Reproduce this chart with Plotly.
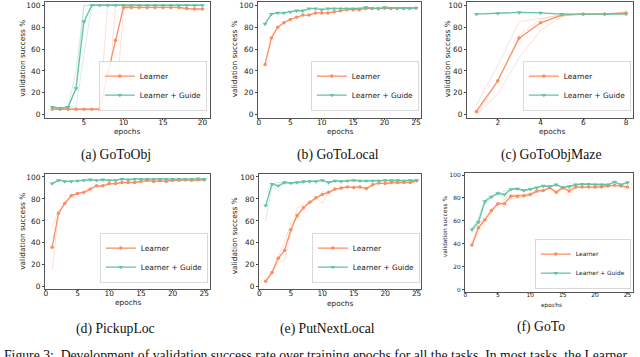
import plotly.graph_objects as go

W, H = 640, 357

LEARNER = "#fc8d62"
GUIDE = "#66c2a5"
LEARNER_FAINT = "rgba(252,141,98,0.28)"
GUIDE_FAINT = "rgba(102,194,165,0.28)"

# ---------------- data ----------------
# (a) GoToObj
epochs_a = list(range(1, 21))
a_learner = [5, 5, 5, 5, 5, 5, 5, 37, 68, 98, 98, 98, 98, 98, 98, 98, 98, 97, 96.5, 96.5]
a_guide = [7, 6, 7, 24, 85, 100, 100, 100, 100, 100, 100, 100, 100, 100, 100, 100, 100, 100, 100, 100]
a_learner_s1 = [5, 5, 5, 5, 5, 5, 5, 100, 100, 100, 98, 98, 98, 98, 98, 98, 98, 97, 96, 96]
a_learner_s2 = [6, 5, 5, 5, 5, 5, 5, 6, 100, 100, 98, 98, 98, 98, 98, 98, 98, 97, 97, 97]
a_learner_s3 = [5, 5, 5, 5, 5, 5, 5, 5, 5, 96, 98, 98, 98, 98, 98, 98, 98, 97, 97, 97]
a_guide_s1 = [7, 6, 7, 40, 100, 100, 100, 100, 100, 100, 100, 100, 100, 100, 100, 100, 100, 100, 100, 100]
a_guide_s2 = [8, 6, 8, 25, 100, 100, 100, 100, 100, 100, 100, 100, 100, 100, 100, 100, 100, 100, 100, 100]
a_guide_s3 = [7, 6, 7, 7, 55, 100, 100, 100, 100, 100, 100, 100, 100, 100, 100, 100, 100, 100, 100, 100]

# (b) GoToLocal
epochs_b = list(range(1, 26))
b_learner = [46, 70, 80, 84, 87, 89, 91, 91, 93, 93, 93, 94, 95, 96, 96, 96, 97, 97, 97, 97.5, 97, 97, 97, 97, 97.5]
b_guide = [83, 92, 93, 93, 94, 95, 95, 97, 97, 96, 97, 97, 97, 97, 97, 97, 98, 97.5, 97, 98, 97.5, 97.5, 97.5, 97.5, 97.5]

# (c) GoToObjMaze
epochs_c = list(range(1, 9))
c_learner = [3, 31, 70, 84, 91, 92, 92, 93]
c_guide = [92, 92.5, 93.5, 93, 92, 92, 92, 92]
c_learner_s1 = [9, 45, 85, 88, 91, 92, 92, 93]
c_learner_s2 = [0, 19, 52, 77, 90, 92, 92, 93]
c_learner_s3 = [0, 30, 73, 87, 92, 92, 92, 94]

# (d) PickupLoc
epochs_d = list(range(1, 26))
d_learner = [36, 67, 76, 83, 85, 86, 89, 92, 92, 94, 94, 95, 95, 95, 96, 97, 96, 96.5, 96, 97, 97, 97.5, 97, 97.5, 97.5]
d_guide = [94, 97, 96, 96, 96.5, 97, 97.5, 97, 97.5, 97, 97, 98, 97.5, 98, 98, 98, 98, 98, 98, 98, 98, 98, 98, 98.5, 98]
d_learner_s1 = [15, 66, 75, 83, 85, 86, 88, 92, 91, 94, 94, 95, 95, 95, 96, 97, 96, 96, 96, 97, 97, 97, 97, 97, 97]
d_learner_s2 = [55, 69, 77, 82, 85, 86, 89, 91, 92, 93, 94, 95, 95, 95, 96, 96, 96, 97, 96, 97, 97, 98, 97, 98, 98]

# (e) PutNextLocal
epochs_e = list(range(1, 26))
e_learner = [5, 13, 26, 33, 52, 65, 72, 77, 81, 84, 86, 89, 90, 91, 90.5, 91, 89.5, 93, 94.5, 94, 95, 95, 95, 95, 96.5]
e_guide = [74, 93.5, 92, 95, 94.5, 95, 96, 96, 96, 97, 95, 96.5, 96, 96.5, 97, 96.5, 96.5, 96.5, 96.5, 97, 97, 97, 96.5, 97, 97]
e_learner_s1 = [5, 12, 22, 24, 48, 72, 75, 77, 82, 76, 86, 88, 89, 91, 90, 92, 88, 93, 94, 94, 95, 95, 95, 95, 96]
e_learner_s2 = [6, 14, 28, 40, 58, 62, 72, 78, 80, 87, 85, 89, 90, 91, 91, 90, 90, 92, 95, 94, 95, 94, 95, 95, 96]
e_guide_s1 = [60, 92, 87, 95, 94, 95, 96, 96, 96, 97, 95, 96, 96, 96, 97, 96, 96, 96, 96, 97, 97, 97, 96, 97, 97]
e_guide_s2 = [85, 94, 95, 95, 95, 95, 96, 96, 96, 97, 95, 97, 96, 97, 97, 97, 96, 97, 97, 97, 97, 97, 96, 97, 97]

# (f) GoTo
epochs_f = list(range(1, 26))
f_learner = [39, 54, 61, 69, 75, 75, 81.5, 81.5, 82, 83, 86, 86.5, 89, 85, 89, 86, 89.5, 89.5, 89.5, 89.5, 89.5, 90.5, 91, 90.5, 89.5]
f_guide = [52.5, 59, 77, 81, 84, 83, 87.5, 88, 86.5, 87.5, 89, 90.5, 90, 91.5, 89, 90, 91.5, 92, 92, 91.5, 91.5, 91.5, 94, 91.5, 93.5]
f_learner_s1 = [39, 50, 58, 66, 76, 72, 79, 80, 81, 82, 85, 86, 88, 84, 88, 82, 89, 89, 90, 88, 90, 90, 91, 90, 89]
f_learner_s2 = [40, 57, 63, 70, 74, 78, 83, 83, 83, 84, 87, 87, 89, 86, 90, 88, 90, 90, 89, 90, 90, 91, 91, 91, 90]
f_guide_s1 = [52, 57, 75, 79, 86, 78, 88, 89, 86, 88, 89, 91, 90, 91, 89, 90, 92, 92, 92, 91, 91, 91, 94, 91, 93]
f_guide_s2 = [54, 62, 79, 82, 83, 86, 87, 88, 87, 87, 89, 90, 90, 92, 89, 90, 91, 92, 92, 92, 92, 92, 94, 92, 94]

captions = ["(a) GoToObj", "(b) GoToLocal", "(c) GoToObjMaze",
            "(d) PickupLoc", "(e) PutNextLocal", "(f) GoTo"]
series_names = ["Learner", "Learner + Guide"]
y_title = "validation success %"
x_title = "epochs"
bottom_caption = ("Figure 3:  Development of validation success rate over training epochs for all "
                  "the tasks. In most tasks, the Learner")

# ---------------- layout helpers ----------------
def fx(px):
    return px / W

def fy(py):
    return 1 - py / H

panels = [
    dict(x=epochs_a, L=a_learner, G=a_guide,
         Ls=[a_learner_s1, a_learner_s2, a_learner_s3], Gs=[a_guide_s1, a_guide_s2, a_guide_s3],
         box=(43, 209, 1, 118), xr=[0.05, 20.95], yr=[-2.7, 103], xt=[5, 10, 15, 20],
         fs=7.4, ytx=(20.5, 58), xtx=(126, 131.5), cap=(115, 156), leg=(206, 111)),
    dict(x=epochs_b, L=b_learner, G=b_guide, Ls=[], Gs=[],
         box=(257, 421, 1, 118), xr=[-0.16, 25.8], yr=[-2.7, 103], xt=[0, 5, 10, 15, 20, 25],
         fs=7.4, ytx=(233, 58), xtx=(340, 131.5), cap=(338, 156), leg=(419, 111)),
    dict(x=epochs_c, L=c_learner, G=c_guide,
         Ls=[c_learner_s1, c_learner_s2, c_learner_s3], Gs=[],
         box=(467, 634, 1, 118), xr=[0.55, 8.33], yr=[-2.7, 103], xt=[2, 4, 6, 8],
         fs=7.4, ytx=(447, 58), xtx=(553, 131.5), cap=(552, 156), leg=(632, 111)),
    dict(x=epochs_d, L=d_learner, G=d_guide,
         Ls=[d_learner_s1, d_learner_s2], Gs=[],
         box=(43, 209, 175, 291), xr=[-0.16, 25.9], yr=[-1.8, 102.7], xt=[0, 5, 10, 15, 20, 25],
         fs=7.4, ytx=(20.5, 233), xtx=(127, 305), cap=(114, 332), leg=(207, 285)),
    dict(x=epochs_e, L=e_learner, G=e_guide,
         Ls=[e_learner_s1, e_learner_s2], Gs=[e_guide_s1, e_guide_s2],
         box=(258, 421, 175, 291), xr=[-0.1, 25.7], yr=[-1.8, 102.7], xt=[0, 5, 10, 15, 20, 25],
         fs=7.4, ytx=(233, 237), xtx=(340, 305.5), cap=(327, 332), leg=(420, 285)),
    dict(x=epochs_f, L=f_learner, G=f_guide,
         Ls=[f_learner_s1, f_learner_s2], Gs=[f_guide_s1, f_guide_s2],
         box=(465, 634, 174, 294), xr=[-0.1, 25.85], yr=[-1.7, 101.7], xt=[0, 5, 10, 15, 20, 25],
         fs=5.9, ytx=(446, 228), xtx=(552, 308), cap=(542, 330), leg=(632, 291)),
]

fig = go.Figure()
layout = dict(width=W, height=H, margin=dict(l=0, r=0, t=0, b=0),
              paper_bgcolor="white", plot_bgcolor="white",
              font=dict(family="DejaVu Sans", color="#222"))
annotations = []

for i, p in enumerate(panels, start=1):
    xa = "x" if i == 1 else f"x{i}"
    ya = "y" if i == 1 else f"y{i}"
    leg = "legend" if i == 1 else f"legend{i}"
    fs = p["fs"]
    # faint seed curves
    for s in p["Ls"]:
        fig.add_trace(go.Scatter(x=p["x"], y=s, mode="lines", xaxis=xa, yaxis=ya,
                                 line=dict(color=LEARNER_FAINT, width=1), showlegend=False,
                                 hoverinfo="skip"))
    for s in p["Gs"]:
        fig.add_trace(go.Scatter(x=p["x"], y=s, mode="lines", xaxis=xa, yaxis=ya,
                                 line=dict(color=GUIDE_FAINT, width=1), showlegend=False,
                                 hoverinfo="skip"))
    # mean curves
    fig.add_trace(go.Scatter(x=p["x"], y=p["L"], mode="lines+markers", name=series_names[0],
                             xaxis=xa, yaxis=ya, legend=leg,
                             line=dict(color=LEARNER, width=1.3),
                             marker=dict(symbol="circle", size=3.5, color=LEARNER)))
    fig.add_trace(go.Scatter(x=p["x"], y=p["G"], mode="lines+markers", name=series_names[1],
                             xaxis=xa, yaxis=ya, legend=leg,
                             line=dict(color=GUIDE, width=1.3),
                             marker=dict(symbol="triangle-down", size=4.5, color=GUIDE)))

    x0, x1, y0, y1 = p["box"]
    axcommon = dict(showline=True, linecolor="#555", linewidth=0.9, mirror=True,
                    showgrid=False, zeroline=False, ticks="outside",
                    tickwidth=0.8, tickcolor="#444",
                    tickfont=dict(family="DejaVu Sans", size=fs, color="#222"))
    layout["xaxis" if i == 1 else f"xaxis{i}"] = dict(
        axcommon, domain=[fx(x0), fx(x1)], range=p["xr"], tickvals=p["xt"],
        anchor=ya, ticklen=1.5, ticklabelstandoff=-4)
    layout["yaxis" if i == 1 else f"yaxis{i}"] = dict(
        axcommon, domain=[fy(y1), fy(y0)], range=p["yr"],
        tickvals=[0, 20, 40, 60, 80, 100], anchor=xa, ticklen=2)
    lx, ly = p["leg"]
    layout[leg] = dict(x=fx(lx), y=fy(ly), xanchor="right", yanchor="bottom",
                       xref="paper", yref="paper",
                       bgcolor="rgba(255,255,255,0.85)", bordercolor="#cfcfcf",
                       borderwidth=0.8, font=dict(family="DejaVu Sans", size=fs, color="#222"),
                       itemwidth=30, tracegroupgap=0)

    tx, ty = p["ytx"]
    annotations.append(dict(text=y_title, x=fx(tx), y=fy(ty), xref="paper", yref="paper",
                            showarrow=False, textangle=-90, xanchor="center", yanchor="middle",
                            font=dict(family="DejaVu Sans", size=fs, color="#222")))
    tx, ty = p["xtx"]
    annotations.append(dict(text=x_title, x=fx(tx), y=fy(ty), xref="paper", yref="paper",
                            showarrow=False, xanchor="center", yanchor="middle",
                            font=dict(family="DejaVu Sans", size=fs, color="#222")))
    tx, ty = p["cap"]
    annotations.append(dict(text=captions[i - 1], x=fx(tx), y=fy(ty), xref="paper", yref="paper",
                            showarrow=False, xanchor="center", yanchor="middle",
                            font=dict(family="Liberation Serif", size=13.7, color="#111")))

annotations.append(dict(text=bottom_caption, x=0, y=fy(359), xref="paper", yref="paper",
                        showarrow=False, xanchor="left", yanchor="middle",
                        font=dict(family="Liberation Serif", size=13.7, color="#111")))

layout["annotations"] = annotations
fig.update_layout(**layout)
fig.write_html("out.html",
               config={"displayModeBar": False, "responsive": False},
               post_script="document.body.style.margin='0';document.body.style.overflow='hidden';")
